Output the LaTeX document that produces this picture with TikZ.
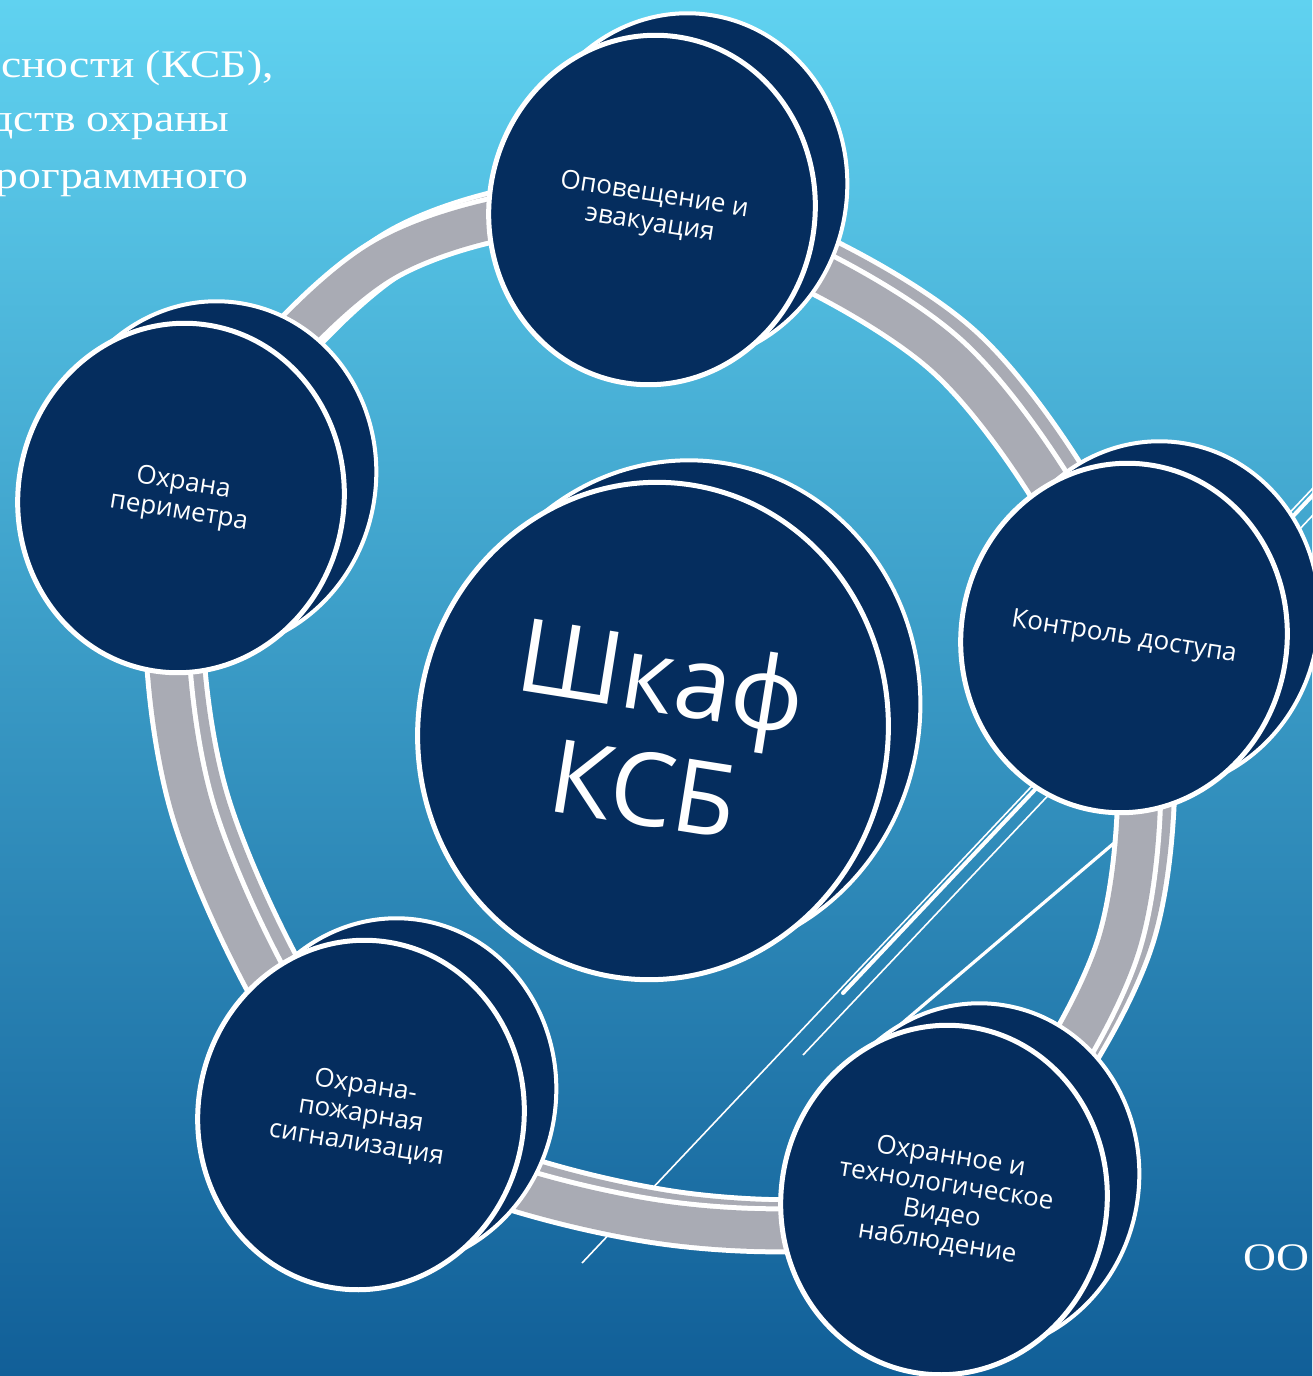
\documentclass[tikz,border=0pt]{standalone}
\usepackage{fontspec}
\setmainfont{Liberation Serif}
\newfontfamily\slidefont[FakeStretch=1.17]{Liberation Serif}
\newfontfamily\diskfont{Open Sans}
\usetikzlibrary{shapes.geometric}

\definecolor{navy}{RGB}{5,45,94}
\definecolor{bandgray}{RGB}{169,171,180}
\definecolor{skytop}{RGB}{96,210,240}
\definecolor{skybottom}{RGB}{17,95,152}

% ring through the disk centres
\def\ringpath{plot[smooth cycle] coordinates {(p-evac) (r1) (p-access) (r2)
    (p-video) (r3) (p-fire) (r4) (p-perim) (r5)}}

\begin{document}
\begin{tikzpicture}[
    x=0.5pt, y=-0.5pt,
    disk/.style={ellipse, draw=white, line width=2.5pt, fill=navy,
                 inner sep=0pt, minimum width=163pt, minimum height=175pt,
                 rotate=-9, text=white, align=center,
                 font=\diskfont\fontsize{13}{14.5}\selectfont},
    hub/.style={minimum width=235pt, minimum height=249pt,
                font=\diskfont\fontsize{51}{57}\selectfont},
    rim/.style={disk, line width=2pt},
    title/.style={anchor=base east, text=white, inner sep=0pt,
                  font=\slidefont\fontsize{19.5}{28}\selectfont},
    deco/.style={draw=white, line width=0.8pt},
]
    \useasboundingbox (0,0) rectangle (1312,1376);
    \fill[top color=skytop, bottom color=skybottom] (0,0) rectangle (1312,1376);

    % thin lines of the slide background
    \draw[deco, line width=2pt, line cap=round] (843,993) -- (1330,477);
    \draw[deco] (582,1263) -- (1330,470);
    \draw[deco] (803,1055) -- (1330,497);
    \draw[deco, line width=1.6pt] (900,1025) -- (1200,770);

    % centres of the disks and bends of the ring
    \coordinate (p-evac)   at (652,210);
    \coordinate (p-access) at (1124,638);
    \coordinate (p-video)  at (944,1200);
    \coordinate (p-fire)   at (361,1115);
    \coordinate (p-perim)  at (181,498);
    \coordinate (p-hub)    at (653,731);
    \coordinate (r1) at (947,356);
    \coordinate (r2) at (1118,947);
    \coordinate (r3) at (660,1222);
    \coordinate (r4) at (192,807);
    \coordinate (r5) at (380,262);

    % ring: rear edge first, then the front band
    \begin{scope}[transform canvas={shift={(7pt,4.5pt)}}]
        \draw[white, line width=24pt] \ringpath;
        \draw[bandgray, line width=19pt] \ringpath;
    \end{scope}
    \draw[white, line width=24pt] \ringpath;
    \draw[bandgray, line width=19pt] \ringpath;

    % back faces of the disks
    \foreach \p/\s in {evac/, access/, video/, fire/, perim/, hub/hub}
        \node[rim, \s] (\p-back) at ([shift={(32,-22)}]p-\p) {};

    \node[disk] (evac) at (p-evac) {Оповещение и\\эвакуация};
    \node[disk] (access) at (p-access) {Контроль доступа};
    \node[disk] (video) at (p-video) {Охранное и\\технологическое\\Видео\\наблюдение};
    \node[disk] (fire) at (p-fire) {Охрана-\\пожарная\\сигнализация};
    \node[disk] (perim) at (p-perim) {Охрана\\периметра};
    \node[disk, hub] (hub) at (p-hub) {Шкаф\\КСБ};

    % slide text around the diagram
    \node[title] (title1) at (274,77) {сности (КСБ),};
    \node[title] (title2) at (230,131) {дств охраны};
    \node[title] (title3) at (249,188) {рограммного};
    \node[title, anchor=base west] (firm) at (1243,1270) {ОО};
\end{tikzpicture}
\end{document}
